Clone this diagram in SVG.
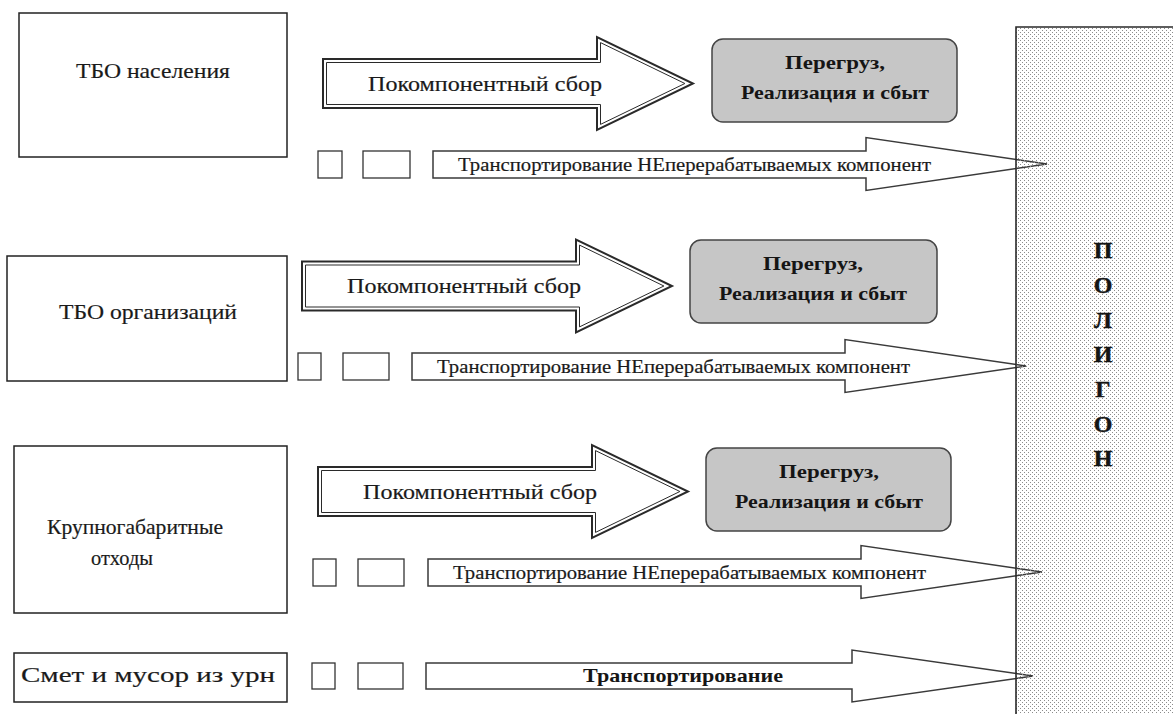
<svg xmlns="http://www.w3.org/2000/svg" xmlns:xlink="http://www.w3.org/1999/xlink" width="1173" height="714" viewBox="0 0 1173 714">
  <style>
    .box { fill: #ffffff; stroke: #222; stroke-width: 1.5; }
    .sq { fill: #ffffff; stroke: #333; stroke-width: 1.3; }
    .grey { fill: #c6c6c6; stroke: #444; stroke-width: 1.5; }
    .tr { fill: #ffffff; stroke: #3a3a3a; stroke-width: 1.5; stroke-linejoin: miter; }
    .lbl { font-family: "Liberation Serif", "DejaVu Serif", serif; font-size: 22px; fill: #1a1a1a; stroke: #1a1a1a; stroke-width: 0.2; }
    .tlbl { font-family: "Liberation Serif", "DejaVu Serif", serif; font-size: 19.5px; fill: #1a1a1a; stroke: #1a1a1a; stroke-width: 0.2; }
    .blbl { font-family: "Liberation Serif", "DejaVu Serif", serif; font-size: 19px; font-weight: bold; fill: #151515; }
    .plbl { font-family: "Liberation Serif", "DejaVu Serif", serif; font-size: 24px; font-weight: bold; fill: #151515; stroke: #151515; stroke-width: 0.5; }
  </style>
  <defs>
    <pattern id="dots" x="0" y="0" width="4" height="4" patternUnits="userSpaceOnUse">
      <rect x="0" y="0" width="1" height="1" fill="#8c8c8c"/>
      <rect x="2" y="2" width="1" height="1" fill="#8c8c8c"/>
    </pattern>
    <!-- double-outlined block arrow, origin at left end of shaft, centre line -->
    <g id="bigArrow">
      <polygon points="0,-24.5 274,-24.5 274,-46.5 370,0 274,46.5 274,24.5 0,24.5" fill="#fff" stroke="#2a2a2a" stroke-width="2" stroke-linejoin="miter"/>
      <polygon points="3.5,-21 277.5,-21 277.5,-40.9 361.9,0 277.5,40.9 277.5,21 3.5,21" fill="none" stroke="#2a2a2a" stroke-width="1" stroke-linejoin="miter"/>
      <text class="lbl" x="162" y="7" text-anchor="middle" textLength="234" lengthAdjust="spacingAndGlyphs">Покомпонентный сбор</text>
    </g>
  </defs>

  <rect width="1173" height="714" fill="#ffffff"/>

  <!-- landfill column background -->
  <g id="landfill-bg">
    <rect x="1016" y="27" width="170" height="700" fill="#ffffff"/>
  </g>

  <!-- connectors -->
  <g id="connectors">
    <use xlink:href="#bigArrow" transform="translate(323,83.5)"/>
    <use xlink:href="#bigArrow" transform="translate(302,286)"/>
    <use xlink:href="#bigArrow" transform="translate(318,491.5)"/>

    <path class="tr" d="M433,151 L866,151 L866,137.5 L1047,164 L866,190.5 L866,178 L433,178 Z"/>
    <path class="tr" d="M412,353 L845,353 L845,339.5 L1026,366 L845,392.5 L845,380 L412,380 Z"/>
    <path class="tr" d="M428,559 L861,559 L861,545.5 L1042,572 L861,598.5 L861,586 L428,586 Z"/>
    <path class="tr" d="M426,663 L852,663 L852,650 L1033,676 L852,702 L852,689 L426,689 Z"/>

    <text class="tlbl" x="458" y="171" textLength="473" lengthAdjust="spacingAndGlyphs">Транспортирование НЕперерабатываемых компонент</text>
    <text class="tlbl" x="437" y="373" textLength="473" lengthAdjust="spacingAndGlyphs">Транспортирование НЕперерабатываемых компонент</text>
    <text class="tlbl" x="453" y="579" textLength="473" lengthAdjust="spacingAndGlyphs">Транспортирование НЕперерабатываемых компонент</text>
    <text class="blbl" x="683" y="682" text-anchor="middle" textLength="200" lengthAdjust="spacingAndGlyphs">Транспортирование</text>
  </g>

  <!-- landfill column: dotted overlay, border and vertical caption -->
  <g id="landfill">
    <rect x="1016" y="27" width="170" height="700" fill="url(#dots)"/>
    <path d="M1016,714 L1016,27 L1173,27" fill="none" stroke="#2a2a2a" stroke-width="1.6"/>
    <g class="plbl" text-anchor="middle">
      <text x="1103" y="258">П</text>
      <text x="1103" y="293">О</text>
      <text x="1103" y="328">Л</text>
      <text x="1103" y="362">И</text>
      <text x="1103" y="397">Г</text>
      <text x="1103" y="432">О</text>
      <text x="1103" y="466">Н</text>
    </g>
  </g>

  <!-- source nodes -->
  <g id="node-households">
    <rect class="box" x="19" y="13" width="268" height="144"/>
    <text class="lbl" x="153" y="78" text-anchor="middle" textLength="154" lengthAdjust="spacingAndGlyphs">ТБО населения</text>
  </g>
  <g id="node-organizations">
    <rect class="box" x="7" y="256" width="280" height="125"/>
    <text class="lbl" x="148" y="319" text-anchor="middle" textLength="178" lengthAdjust="spacingAndGlyphs">ТБО организаций</text>
  </g>
  <g id="node-bulky">
    <rect class="box" x="14" y="446" width="273" height="167"/>
    <text class="lbl" x="135" y="534" text-anchor="middle" textLength="176" lengthAdjust="spacingAndGlyphs">Крупногабаритные</text>
    <text class="lbl" x="122" y="565" text-anchor="middle" textLength="62" lengthAdjust="spacingAndGlyphs">отходы</text>
  </g>
  <g id="node-street">
    <rect class="box" x="14" y="653" width="273" height="49"/>
    <text class="lbl" x="148" y="682" text-anchor="middle" textLength="254" lengthAdjust="spacingAndGlyphs">Смет и мусор из урн</text>
  </g>

  <!-- small placeholder boxes -->
  <g id="slots-1">
    <rect class="sq" x="318" y="151" width="24" height="27"/>
    <rect class="sq" x="363" y="151" width="47" height="27"/>
  </g>
  <g id="slots-2">
    <rect class="sq" x="298" y="353" width="23" height="27"/>
    <rect class="sq" x="343" y="353" width="46" height="27"/>
  </g>
  <g id="slots-3">
    <rect class="sq" x="313" y="559" width="23" height="27"/>
    <rect class="sq" x="358" y="559" width="46" height="27"/>
  </g>
  <g id="slots-4">
    <rect class="sq" x="312" y="663" width="23" height="26"/>
    <rect class="sq" x="358" y="663" width="45" height="26"/>
  </g>

  <!-- recycling nodes -->
  <g id="node-recycle-1">
    <rect class="grey" x="712" y="39" width="245" height="83" rx="11"/>
    <text class="blbl" x="835" y="69" text-anchor="middle" textLength="100" lengthAdjust="spacingAndGlyphs">Перегруз,</text>
    <text class="blbl" x="835" y="99" text-anchor="middle" textLength="188" lengthAdjust="spacingAndGlyphs">Реализация и сбыт</text>
  </g>
  <g id="node-recycle-2">
    <rect class="grey" x="690" y="240" width="247" height="83" rx="11"/>
    <text class="blbl" x="813" y="270" text-anchor="middle" textLength="100" lengthAdjust="spacingAndGlyphs">Перегруз,</text>
    <text class="blbl" x="813" y="300" text-anchor="middle" textLength="188" lengthAdjust="spacingAndGlyphs">Реализация и сбыт</text>
  </g>
  <g id="node-recycle-3">
    <rect class="grey" x="706" y="448" width="245" height="83" rx="11"/>
    <text class="blbl" x="829" y="478" text-anchor="middle" textLength="100" lengthAdjust="spacingAndGlyphs">Перегруз,</text>
    <text class="blbl" x="829" y="508" text-anchor="middle" textLength="188" lengthAdjust="spacingAndGlyphs">Реализация и сбыт</text>
  </g>
</svg>
